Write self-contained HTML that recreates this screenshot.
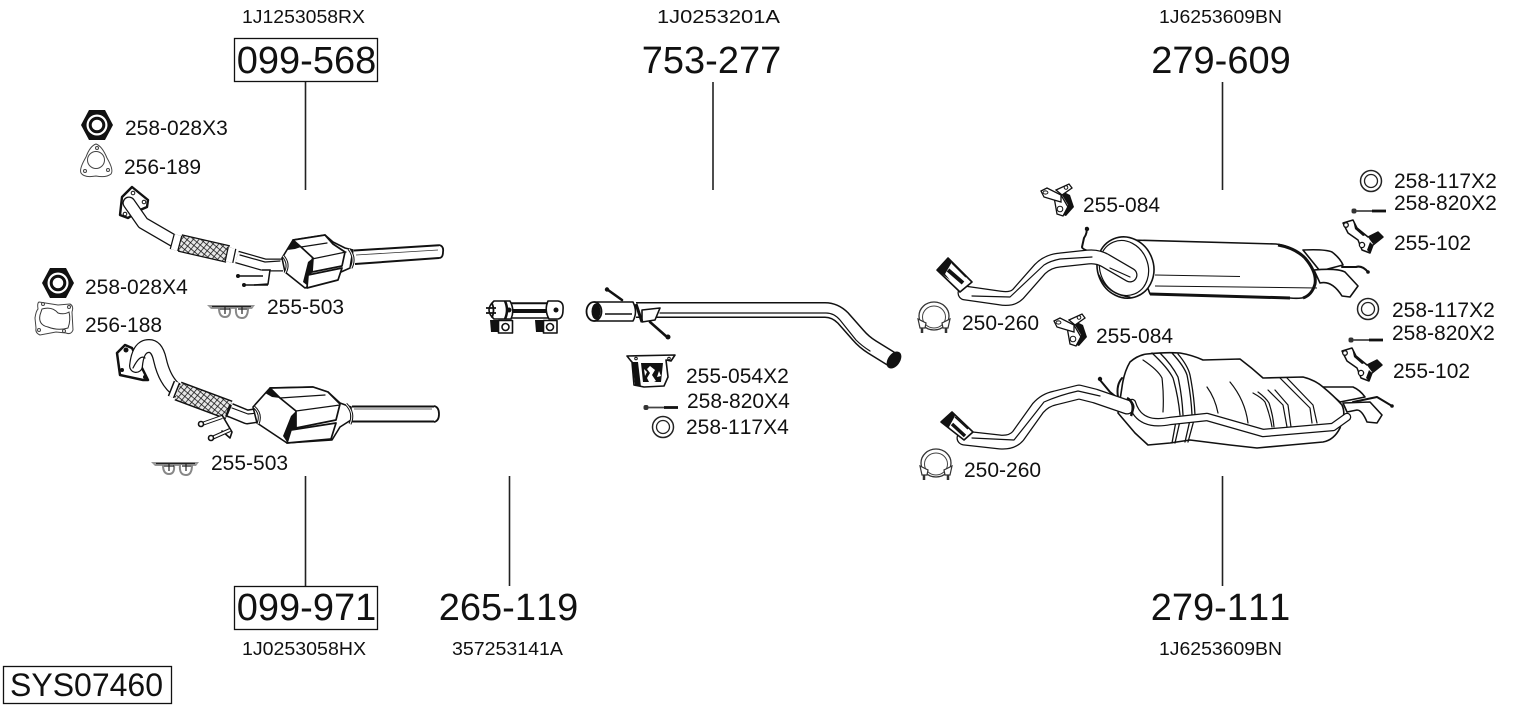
<!DOCTYPE html>
<html><head><meta charset="utf-8"><style>
html,body{margin:0;padding:0;background:#fff}
svg{display:block}
text{font-family:"Liberation Sans",Arial,sans-serif;fill:#111;font-kerning:none}
.s{font-size:21px}.l{font-size:38px}
.o{fill:#fff;stroke:#111;stroke-width:1.6;stroke-linejoin:round;stroke-linecap:round}
.n{fill:none;stroke:#111;stroke-width:1.2;stroke-linecap:round;stroke-linejoin:round}
.h{fill:none;stroke:#111;stroke-width:2;stroke-linecap:round;stroke-linejoin:round}
.k{fill:#111;stroke:none}
.pb{fill:none;stroke:#111;stroke-linejoin:round;stroke-linecap:round}
.pw{fill:none;stroke:#fff;stroke-linejoin:round;stroke-linecap:round}
</style></head><body>
<svg xmlns="http://www.w3.org/2000/svg" width="1530" height="711" viewBox="0 0 1530 711">
<defs>
<pattern id="mesh" width="4.5" height="4.5" patternUnits="userSpaceOnUse" patternTransform="rotate(40)">
<rect width="4.5" height="4.5" fill="#e8e8e8"/><path d="M0 0H4.5M0 0V4.5" stroke="#111" stroke-width="1.5"/>
</pattern>
<g id="nut"><polygon points="-16,0 -8,-15 8,-15 16,0 8,15 -8,15" fill="#111"/><circle r="10.500" fill="#fff"/><circle r="6.800" fill="none" stroke="#111" stroke-width="3"/></g>
<g id="washer"><circle r="10.500" fill="#fff" stroke="#222" stroke-width="1.500"/><circle r="6.500" fill="none" stroke="#222" stroke-width="1.300"/></g>
<g id="bolt"><rect x="-2.500" y="-2.500" width="5" height="5" rx="2" fill="#333"/><path d="M2 0H32" stroke="#444" stroke-width="1.800"/><path d="M18 0H32" stroke="#111" stroke-width="2.800"/></g>
<g id="h503"><path d="M0 1H48L45 5H4Z" fill="#999"/><path d="M12 4Q12 13 18 13Q24 13 23 4M29 4Q28 14 35 14Q41 14 41 4" fill="#fff" stroke="#888" stroke-width="2"/><path d="M13 5H23M31 5H40M18 3V10M35 3V10M5 2.500H44" stroke="#222" stroke-width="1.200"/></g>
<g id="h084">
<path d="M13 14L16 31 22 33 27 24 20 12Z" fill="#fff" stroke="#111" stroke-width="1.300"/>
<path d="M21 8L29 12 33 24 25 33 22 32 27 22 21 12Z" fill="#111"/>
<path d="M0 8L6 5 20 12 20 19 13 17 3 14Z" fill="#fff" stroke="#111" stroke-width="1.300"/>
<path d="M15 7L28 1 31 5 21 12Z" fill="#fff" stroke="#111" stroke-width="1.300"/>
<ellipse cx="4.500" cy="9.500" rx="2.400" ry="1.600" fill="#fff" stroke="#111"/><circle cx="25" cy="4.500" r="1.800" fill="#fff" stroke="#111"/><circle cx="19" cy="26" r="2.800" fill="#fff" stroke="#111"/>
</g>
<g id="h102">
<path d="M-3 3L7 0 11 8 22 17 32 12 37 17 27 25 24 33 16 30 12 20 2 13Z" fill="#fff" stroke="#111" stroke-width="1.500" stroke-linejoin="round"/>
<path d="M22 17L32 12 37 17 27 24 24 20Z M24 22L27 25 24 33 21 30Z M7 0L11 8 20 15 17 16 9 9Z" fill="#111"/>
<circle cx="0" cy="5" r="2.300" fill="#fff" stroke="#111" stroke-width="1.300"/><circle cx="16" cy="25" r="2.600" fill="#fff" stroke="#111" stroke-width="1.300"/>
</g>
<g id="clamp">
<ellipse cx="16" cy="14" rx="15" ry="14" fill="#fff" stroke="#333" stroke-width="1.300"/>
<ellipse cx="16" cy="15" rx="11.500" ry="11" fill="#fff" stroke="#444" stroke-width="1"/>
<path d="M0 17L8 21 7 26 2 26Z M32 17L24 21 25 26 30 26Z" fill="#fff" stroke="#333" stroke-width="1.200"/>
<path d="M4 26V31M28 26V31" stroke="#333" stroke-width="2.500"/>
</g>
</defs>

<!-- leader lines -->
<g stroke="#222" stroke-width="1.600">
<path d="M305.500 81V190M713 82V190M1222.500 82V190M305.500 476V586M509.500 476V586M1222.500 476V586"/>
</g>
<g fill="none" stroke="#111" stroke-width="1.300">
<rect x="234.500" y="38.500" width="143" height="43"/>
<rect x="234.500" y="586.500" width="143" height="43"/>
<rect x="3.500" y="666.500" width="168" height="37"/>
</g>

<!-- header text -->
<g text-anchor="middle" style="font-size:18.500px">
<text x="303.500" y="23" textLength="123" lengthAdjust="spacingAndGlyphs">1J1253058RX</text>
<text x="718.500" y="23" textLength="123" lengthAdjust="spacingAndGlyphs">1J0253201A</text>
<text x="1220.500" y="23" textLength="123" lengthAdjust="spacingAndGlyphs">1J6253609BN</text>
<text x="304" y="655" textLength="124" lengthAdjust="spacingAndGlyphs">1J0253058HX</text>
<text x="507.500" y="655" textLength="111" lengthAdjust="spacingAndGlyphs">357253141A</text>
<text x="1220.500" y="655" textLength="123" lengthAdjust="spacingAndGlyphs">1J6253609BN</text>
</g>
<g class="l" text-anchor="middle">
<text x="306.500" y="73">099-568</text>
<text x="711.500" y="73">753-277</text>
<text x="1221" y="73">279-609</text>
<text x="306.500" y="620">099-971</text>
<text x="508.500" y="620">265-119</text>
<text x="1220.500" y="620">279-111</text>
</g>
<text x="10" y="696" style="font-size:32px">SYS07460</text>

<!-- labels -->
<g class="s">
<text x="125" y="135">258-028X3</text>
<text x="124" y="174">256-189</text>
<text x="85" y="294">258-028X4</text>
<text x="85" y="332">256-188</text>
<text x="267" y="314">255-503</text>
<text x="211" y="470">255-503</text>
<text x="686" y="383">255-054X2</text>
<text x="687" y="408">258-820X4</text>
<text x="686" y="434">258-117X4</text>
<text x="1083" y="212">255-084</text>
<text x="962" y="330">250-260</text>
<text x="1096" y="343">255-084</text>
<text x="964" y="477">250-260</text>
<text x="1394" y="188">258-117X2</text>
<text x="1394" y="210">258-820X2</text>
<text x="1394" y="250">255-102</text>
<text x="1392" y="317">258-117X2</text>
<text x="1392" y="340">258-820X2</text>
<text x="1393" y="378">255-102</text>
</g>

<!-- small parts left -->
<use href="#nut" x="97" y="125"/>
<use href="#nut" x="58" y="283"/>
<path d="M96 144Q102 146 107 158 114 170 111 174 106 178 96 176 84 178 81 173 79 169 86 157 90 146 96 144Z" fill="#fff" stroke="#444" stroke-width="1"/>
<circle cx="96" cy="160" r="8.500" fill="none" stroke="#444"/>
<circle cx="97" cy="148" r="1.500" fill="none" stroke="#444"/><circle cx="108" cy="170" r="1.500" fill="none" stroke="#444"/><circle cx="85" cy="171" r="1.500" fill="none" stroke="#444"/>
<path d="M39 302L58 305 70 304Q74 306 72 312L73 330Q71 335 66 333L56 332 40 335Q35 333 36 328L35 318Q36 311 38 309 37 303 39 302Z" fill="#fff" stroke="#444" stroke-width="1"/>
<path d="M42 309Q52 306 58 313 64 315 69 312 71 320 68 328 58 331 48 327 38 325 40 315Z" fill="none" stroke="#333"/>
<circle cx="43" cy="304" r="1.500" fill="none" stroke="#444"/><circle cx="69" cy="307" r="1.500" fill="none" stroke="#444"/><circle cx="39" cy="330" r="1.500" fill="none" stroke="#444"/><circle cx="64" cy="331" r="1.500" fill="none" stroke="#444"/>
<use href="#h503" x="207" y="304"/>
<use href="#h503" x="151" y="461"/>

<!-- catalytic converter 1 -->
<g>
<path d="M120 215L122 197 132 187 148 200 147 207 140 210 128 218Z" fill="#fff" stroke="#111" stroke-width="2.400" stroke-linejoin="round"/>
<circle cx="133" cy="193" r="1.800" fill="#fff" stroke="#111"/><circle cx="144" cy="202" r="1.800" fill="#fff" stroke="#111"/><circle cx="125" cy="214" r="1.800" fill="#fff" stroke="#111"/>
<path d="M129 203L143 223 174 241" class="pb" style="stroke-width:13"/>
<path d="M129 203L143 223 174 241" class="pw" style="stroke-width:10.500"/>
<path d="M180 243L228 254" stroke="#111" stroke-width="18"/>
<path d="M180 243L228 254" stroke="url(#mesh)" stroke-width="15.500"/>
<path d="M178 235L174 250" stroke="#111" stroke-width="9"/><path d="M178 235L174 250" stroke="#fff" stroke-width="6.500"/>
<path d="M232 248L229 262" stroke="#111" stroke-width="9"/><path d="M232 248L229 262" stroke="#fff" stroke-width="6.500"/>
<path d="M237 257L265 265 283 265" class="pb" style="stroke-width:13;stroke-linecap:butt"/>
<path d="M237 257L265 265 283 265" class="pw" style="stroke-width:10.500;stroke-linecap:butt"/>
<path d="M240 255L265 262 280 261" class="n" stroke-width=".9"/>
<path d="M262 270L270 270 268 284 254 285" fill="#fff" stroke="#111" stroke-width="1.500"/>
<path d="M238 276H263M243 285H268" stroke="#111" stroke-width="1.500"/>
<circle cx="238" cy="276" r="2" class="k"/><circle cx="244" cy="285" r="2" class="k"/>
<path d="M356 250.500L439 245.500V258.500L356 264Z" fill="#fff"/>
<path d="M354 250.500L439 245.200M355 264L439 258" stroke="#111" stroke-width="2"/>
<path d="M356 255L438 250" stroke="#333" stroke-width=".8"/>
<path d="M439 245Q444 246 443 252 443 258 439 258" fill="#fff" stroke="#111" stroke-width="1.800"/>
<path d="M282 258L293 240 325 235 333 242 345 248 353 250 350 268 305 288 285 272Z" class="o" stroke-width="2"/>
<path d="M293 240L325 235 333 244 345 252 342 266 312 272 313 258 301 247Z" fill="#fff" stroke="#111" stroke-width="1.700" stroke-linejoin="round"/>
<path d="M301 247L327 243M312 259L346 252" class="n"/>
<path d="M293 240L301 247 295 249 287 250Z M313 258L312 272 308 286 303 282 308 262Z" class="k"/>
<path d="M308 275L342 268 338 280 307 288Z" fill="#fff" stroke="#111" stroke-width="1.700" stroke-linejoin="round"/>
<path d="M283 256Q290 264 285 273" fill="none" stroke="#111" stroke-width="3"/>
<path d="M283 256Q290 264 285 273" fill="none" stroke="#fff" stroke-width="1"/>
<path d="M349 249Q356 258 351 268" fill="none" stroke="#111" stroke-width="3"/>
<path d="M349 249Q356 258 351 268" fill="none" stroke="#fff" stroke-width="1"/>
</g>

<!-- catalytic converter 2 -->
<g>
<path d="M117 353L125 345 132 348 148 380 143 380 120 375Z" fill="#fff" stroke="#111" stroke-width="2.500" stroke-linejoin="round"/>
<circle cx="126" cy="350" r="2.500" class="k"/><circle cx="122" cy="370" r="2" class="k"/><circle cx="145" cy="377" r="2" class="k"/>
<path d="M136 366Q138 346 149 346 157 346 160 360 165 382 178 391" class="pb" style="stroke-width:14"/>
<path d="M136 366Q138 346 149 346 157 346 160 360 165 382 178 391" class="pw" style="stroke-width:11.500"/>
<path d="M133 368Q140 354 145 358" class="n"/>
<path d="M178 391L229 410" stroke="#111" stroke-width="20"/>
<path d="M178 391L229 410" stroke="url(#mesh)" stroke-width="17"/>
<path d="M177 382L171 397" stroke="#111" stroke-width="7"/><path d="M177 382L171 397" stroke="#fff" stroke-width="4"/>
<path d="M231 405L227 417" stroke="#111" stroke-width="4"/>
<path d="M230 410L247 417 260 415" class="pb" style="stroke-width:15;stroke-linecap:butt"/>
<path d="M230 410L247 417 260 415" class="pw" style="stroke-width:12;stroke-linecap:butt"/>
<path d="M232 408L248 414 258 413" class="n" stroke-width=".9"/>
<path d="M352 406.500H434M352 421.500H434" stroke="#111" stroke-width="2"/>
<path d="M354 409H432" stroke="#333" stroke-width=".8"/>
<path d="M434 406Q439 407 439 414 439 421 434 422" fill="#fff" stroke="#111" stroke-width="1.800"/>
<path d="M253 407L270 388 313 387 328 392 340 403 351 407 351 420 340 427 332 440 287 443 257 423Z" class="o" stroke-width="2"/>
<path d="M270 388L313 387 328 392 340 404 336 420 296 428 296 411 280 398Z" fill="#fff" stroke="#111" stroke-width="1.700" stroke-linejoin="round"/>
<path d="M280 398L325 395M296 411L340 405" class="n"/>
<path d="M270 388L280 398 272 397 265 393Z M296 411L296 428 287 442 283 436 291 416Z" class="k"/>
<path d="M291 430L336 423 331 439 287 443Z" fill="#fff" stroke="#111" stroke-width="1.700" stroke-linejoin="round"/>
<path d="M254 407Q262 414 258 424" fill="none" stroke="#111" stroke-width="3"/>
<path d="M254 407Q262 414 258 424" fill="none" stroke="#fff" stroke-width="1"/>
<path d="M346 404Q355 413 350 424" fill="none" stroke="#111" stroke-width="3"/>
<path d="M346 404Q355 413 350 424" fill="none" stroke="#fff" stroke-width="1"/>
<path d="M222 415L232 432 230 438 222 431" class="o"/>
<path d="M202 424L222 417M212 438L230 430" stroke="#111" stroke-width="4"/>
<path d="M202 424L222 417M212 438L230 430" stroke="#fff" stroke-width="2"/>
<circle cx="201" cy="424" r="2.500" class="o"/><circle cx="211" cy="438" r="2.500" class="o"/>
</g>

<!-- clamp sleeve 265-119 -->
<g>
<path d="M511 303H548V318H511Z" class="o"/>
<path d="M511 311H548" stroke="#111" stroke-width="4"/>
<path d="M511 303.500H548" stroke="#111" stroke-width="1.500"/>
<path d="M494 301H510Q515 310 511 319H494Q484 310 494 301Z" class="o" stroke-width="2.200"/>
<path d="M486 308H496M486 313H496M492 303Q495 310 492 318" stroke="#111" stroke-width="1.800" fill="none"/>
<path d="M505 301Q509 310 505 319" stroke="#111" stroke-width="2.500" fill="none"/>
<circle cx="509" cy="310" r="2.500" class="k"/>
<path d="M548 301H558Q564 302 563 310 563 318 558 319L549 319Q544 310 548 301Z" class="o" stroke-width="2.200"/>
<circle cx="556" cy="310" r="2.500" class="k"/>
<path d="M490 320H499V332H491Z" class="k"/>
<rect x="498.500" y="320.500" width="14" height="12.500" class="o"/><circle cx="505.500" cy="327" r="3.500" class="o"/>
<path d="M535 320H544V332H536Z" class="k"/>
<rect x="543.500" y="320.500" width="13.500" height="12.500" class="o"/><circle cx="550" cy="327" r="3.500" class="o"/>
</g>

<!-- mid pipe -->
<g>
<path d="M608 290L622 300M650 322L667 337" stroke="#111" stroke-width="2.600" stroke-linecap="round"/>
<circle cx="607" cy="289.500" r="2.200" class="k"/><circle cx="668" cy="337" r="2.500" class="k"/>
<path d="M636 310H825Q835 310 843 318L858 335Q864 342 872 347L893 360" class="pb" style="stroke-width:16;stroke-linecap:butt"/>
<path d="M636 310H825Q835 310 843 318L858 335Q864 342 872 347L893 360" class="pw" style="stroke-width:13;stroke-linecap:butt"/>
<path d="M660 313H826Q834 313 840 320L856 340Q862 346 870 351" class="n" stroke-width=".9"/>
<ellipse cx="894" cy="360" rx="5" ry="8.500" transform="rotate(35 894 360)" fill="#111" stroke="#111" stroke-width="2"/>
<path d="M594 302H633Q638 312 633 321H594" class="o" stroke-width="2.200"/>
<ellipse cx="594" cy="311.500" rx="7.500" ry="9.500" fill="#fff" stroke="#111" stroke-width="1.800"/>
<ellipse cx="596" cy="311.500" rx="4.500" ry="8" fill="#111"/>
<path d="M605 314H632" stroke="#111" stroke-width="1.400"/>
<path d="M642 310L660 308 655 320 642 322Z" class="o"/>
<path d="M636 304L642 322" stroke="#111" stroke-width="3"/>
</g>

<!-- 255-054 and friends -->
<g>
<path d="M627 356L675 355 671 361 666 360 668 377 664 386 644 387 634 385 632 362 631 361Z" class="o"/>
<path d="M632 362L635 385 641 387 638 362Z" class="k"/>
<path d="M641 363H663L661 382H643Z" class="k"/>
<path d="M650 366L655 370 652 375 656 381 650 384 647 378 650 373 647 369Z" fill="#fff"/>
<path d="M644 369L647 372 645 376Z M659 371L657 377 661 376Z" fill="#fff"/>
<circle cx="636" cy="358.500" r="1.300" fill="#fff" stroke="#111"/><circle cx="669" cy="358.500" r="1.300" fill="#fff" stroke="#111"/>
<use href="#bolt" x="646" y="407.500"/>
<use href="#washer" x="663" y="427"/>
</g>

<!-- right small parts -->
<use href="#h084" x="1041" y="183"/>
<use href="#h084" x="1054" y="313"/>
<use href="#h102" x="1346" y="220"/>
<use href="#h102" x="1345" y="348"/>
<use href="#clamp" x="918" y="302"/>
<use href="#clamp" x="920" y="449"/>
<use href="#washer" x="1371" y="181"/>
<use href="#washer" x="1368" y="309"/>
<use href="#bolt" x="1354" y="211"/>
<use href="#bolt" x="1351" y="340"/>

<!-- rear muffler 1 -->
<g>
<path d="M1303 250Q1325 249 1332 252 1340 258 1343 265L1320 271Z" class="o"/>
<path d="M1314 270Q1337 268 1345 272L1358 286 1350 297 1342 296Q1332 280 1320 283Z" class="o"/>
<path d="M1130 240L1276 244Q1293 246 1305 258 1316 270 1315 282 1313 293 1306 297 1300 299 1290 298L1150 294Z" class="o" stroke-width="2"/>
<path d="M1278 245Q1295 248 1305 258 1317 272 1315 284 1312 295 1303 298" fill="none" stroke="#111" stroke-width="3"/>
<path d="M1150 294L1290 298" stroke="#111" stroke-width="3"/>
<path d="M1155 275L1240 276.500M1155 286L1317 288" stroke="#111" stroke-width="1"/>
<ellipse cx="1125.500" cy="267.500" rx="28" ry="31" transform="rotate(-22 1125.500 267.500)" class="o" stroke-width="2.500"/>
<ellipse cx="1124" cy="268" rx="24" ry="28" transform="rotate(-22 1124 268)" class="n"/>
<path d="M1099 275Q1108 295 1130 297" class="n"/>
<path d="M1086 228Q1088 232 1084 238L1082 247Q1082 250 1097 253" class="h"/>
<circle cx="1087" cy="229" r="2.200" class="k"/>
<path d="M965 293L1000 298Q1012 300 1018 294L1040 269Q1048 261 1060 260L1088 257Q1098 256 1106 261L1130 275" class="pb" style="stroke-width:15"/>
<path d="M965 293L1000 298Q1012 300 1018 294L1040 269Q1048 261 1060 260L1088 257Q1098 256 1106 261L1130 275" class="pw" style="stroke-width:12.500"/>
<path d="M972 296L1010 297 1044 265Q1050 261 1060 259L1092 257M1110 268L1130 277" class="n" stroke-width=".9"/>
<path d="M937 270L948 258 972 282 960 292Z" class="o"/>
<path d="M937 270L948 258 952 262 945 274 950 280Z" class="k"/>
<path d="M948 270L963 283" stroke="#111" stroke-width="4"/>
<path d="M952 263L966 277" stroke="#111" stroke-width="1.500"/>
<path d="M1342 267H1356Q1362 265 1368 272" class="h" stroke-width="1.600"/>
<circle cx="1368" cy="272" r="1.800" class="k"/>
</g>

<!-- rear muffler 2 -->
<g>
<path d="M1322 387L1353 387Q1360 390 1365 397L1340 402Z" class="o"/>
<path d="M1343 403L1370 402 1382 415 1377 423 1367 422Q1362 410 1357 410L1347 412Z" class="o"/>
<path d="M1122 387Q1124 372 1130 362 1138 355 1147 354 1165 352 1180 353 1192 355 1203 360L1240 359Q1252 368 1263 378L1303 377Q1315 380 1323 387 1334 396 1342 405 1345 412 1343 418L1340 428Q1334 440 1323 442L1290 445 1257 448 1230 445 1190 440 1170 443 1148 445 1135 433 1118 413Z" class="o" stroke-width="2"/>
<path d="M1152 353Q1168 368 1173 378 1178 395 1180 415M1160 353Q1172 365 1178 377 1182 395 1183 415M1172 353Q1184 366 1187 375 1191 395 1192 415M1178 354Q1188 366 1190 375 1194 395 1195 415M1176 421L1172 443M1180 421L1175 443M1190 420L1185 442M1194 420L1188 442" class="h" style="stroke-width:1.300"/>
<path d="M1143 360Q1158 370 1162 378 1164 395 1163 412M1207 387Q1215 398 1218 413M1230 382Q1245 400 1248 423M1253 393Q1262 398 1265 402 1270 415 1272 427M1258 392Q1266 398 1269 403 1273 415 1274 427M1268 390L1283 405 1287 427M1275 390L1288 405 1291 427M1280 378L1310 408 1312 423M1287 378L1313 405 1317 423" class="n"/>
<path d="M1132 403Q1136 416 1146 420 1155 424 1170 421L1207 417 1263 433 1333 427 1347 417" class="pb" style="stroke-width:8.500"/>
<path d="M1132 403Q1136 416 1146 420 1155 424 1170 421L1207 417 1263 433 1333 427 1347 417" class="pw" style="stroke-width:6"/>
<path d="M1100 380L1110 392 1115 396" class="h"/>
<circle cx="1100" cy="379" r="2.200" class="k"/>
<path d="M1118 397Q1116 385 1122 378" class="h" stroke-width="1.400"/>
<path d="M964 438L1000 442Q1012 443 1018 436L1038 408Q1045 400 1055 398L1079 392 1095 396 1127 407" class="pb" style="stroke-width:15"/>
<path d="M964 438L1000 442Q1012 443 1018 436L1038 408Q1045 400 1055 398L1079 392 1095 396 1127 407" class="pw" style="stroke-width:12.500"/>
<path d="M972 438L1014 440Q1030 420 1044 402 1060 395 1078 391L1100 396" class="n" stroke-width=".9"/>
<path d="M1127 398Q1136 403 1131 416" fill="none" stroke="#111" stroke-width="2.500"/>
<path d="M941 422L952 412 973 432 964 440Z" class="o"/>
<path d="M941 422L952 412 955 416 949 427 952 431Z" class="k"/>
<path d="M952 424L965 436" stroke="#111" stroke-width="3.500"/>
<path d="M955 417L968 429" stroke="#111" stroke-width="1.500"/>
<path d="M1353 402L1377 397 1392 406" class="h" stroke-width="1.600"/>
<circle cx="1392" cy="406" r="1.800" class="k"/>
</g>
</svg>
</body></html>
